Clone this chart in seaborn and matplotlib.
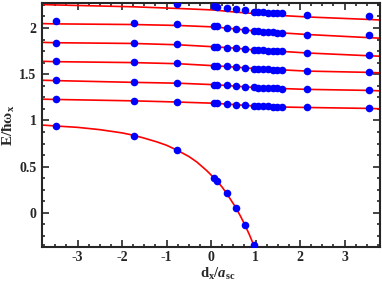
import numpy as np
import pandas as pd
import matplotlib
matplotlib.use("Agg")
import matplotlib.pyplot as plt
from matplotlib.ticker import MultipleLocator
import seaborn as sns

# theory curves
curve_x = [-3.8, -3.5, -1.75, -0.75, 0.07, 0.56, 0.96, 1.6, 2.16, 3.55, 3.8]
line1 = [1.230, 1.227, 1.212, 1.199, 1.186, 1.170, 1.157, 1.145, 1.140, 1.130, 1.126]
line2 = [1.435, 1.431, 1.412, 1.403, 1.387, 1.371, 1.357, 1.345, 1.336, 1.325, 1.320]
line3 = [1.640, 1.636, 1.626, 1.614, 1.592, 1.577, 1.562, 1.547, 1.534, 1.520, 1.515]
line4 = [1.845, 1.841, 1.833, 1.819, 1.797, 1.782, 1.763, 1.747, 1.730, 1.700, 1.695]
line5 = [2.048, 2.045, 2.038, 2.028, 2.012, 1.990, 1.969, 1.947, 1.930, 1.896, 1.890]
line6 = [2.254, 2.250, 2.230, 2.212, 2.195, 2.172, 2.158, 2.135, 2.120, 2.093, 2.087]

bound_x = [-3.8, -3.5, -3.0, -2.5, -2.0, -1.73, -1.5, -1.22, -1.0, -0.76, -0.5,
           -0.32, -0.1, 0.0, 0.14, 0.25, 0.35, 0.45, 0.56, 0.66, 0.76, 0.86, 0.96, 0.99]
bound_y = [0.950, 0.940, 0.925, 0.900, 0.865, 0.838, 0.808, 0.768, 0.731, 0.677, 0.610,
           0.550, 0.458, 0.410, 0.340, 0.278, 0.210, 0.136, 0.054, -0.035, -0.130, -0.235, -0.350, -0.390]

# numerical points
pts_x = [-3.48, -1.73, -0.76, 0.07, 0.14, 0.35, 0.56, 0.76, 0.96, 1.06, 1.17, 1.28, 1.40, 1.49, 1.60, 2.16, 3.55]
pts1 = [1.228, 1.213, 1.199, 1.186, 1.184, 1.177, 1.170, 1.163, 1.157, 1.155, 1.153, 1.151, 1.149, 1.147, 1.145, 1.141, 1.131]
pts2 = [1.433, 1.411, 1.405, 1.387, 1.385, 1.379, 1.371, 1.364, 1.357, 1.355, 1.353, 1.351, 1.349, 1.347, 1.345, 1.336, 1.328]
pts3 = [1.638, 1.627, 1.617, 1.592, 1.590, 1.584, 1.577, 1.569, 1.562, 1.560, 1.557, 1.554, 1.551, 1.549, 1.547, 1.534, 1.526]
pts4 = [1.843, 1.836, 1.822, 1.797, 1.795, 1.789, 1.782, 1.774, 1.763, 1.760, 1.757, 1.754, 1.751, 1.749, 1.747, 1.731, 1.706]
pts5 = [2.073, 2.058, 2.043, 2.020, 2.017, 2.005, 1.990, 1.983, 1.969, 1.965, 1.961, 1.957, 1.953, 1.950, 1.947, 1.930, 1.930]
pts6_x = pts_x[2:]
pts6 = [2.257, 2.235, 2.232, 2.214, 2.203, 2.192, 2.178, 2.175, 2.172, 2.168, 2.165, 2.162, 2.158, 2.141, 2.127]
bound_pts_x = [-3.48, -1.73, -0.76, 0.07, 0.14, 0.35, 0.56, 0.76, 0.96]
bound_pts = [0.940, 0.835, 0.677, 0.381, 0.340, 0.210, 0.054, -0.130, -0.350]

xtick_labels = ['-3', '-2', '-1', '0', '1', '2', '3']
ytick_labels = ['0', '0.5', '1', '1.5', '2']

sns.set_style("ticks")
plt.rcParams['font.family'] = ['Liberation Serif', 'DejaVu Serif']
plt.rcParams['font.weight'] = 'bold'
plt.rcParams['axes.unicode_minus'] = False
plt.rcParams['mathtext.fontset'] = 'custom'
plt.rcParams['mathtext.rm'] = 'Liberation Serif:bold'
plt.rcParams['mathtext.it'] = 'Liberation Serif:italic:bold'
plt.rcParams['mathtext.bf'] = 'Liberation Serif:bold'

fig = plt.figure(figsize=(3.82, 2.81), dpi=100)
ax = fig.add_axes([0.110, 0.121, 0.885, 0.868])

for ys in [line1, line2, line3, line4, line5, line6]:
    sns.lineplot(x=curve_x, y=ys, color='red', lw=1.2, sort=False, estimator=None, ax=ax)
sns.lineplot(x=bound_x, y=bound_y, color='red', lw=1.2, sort=False, estimator=None, ax=ax)

pts = pd.concat([
    pd.DataFrame({'x': pts_x, 'y': p}) for p in [pts1, pts2, pts3, pts4, pts5]
] + [pd.DataFrame({'x': pts6_x, 'y': pts6}), pd.DataFrame({'x': bound_pts_x, 'y': bound_pts})])
sns.scatterplot(data=pts, x='x', y='y', color='#0000ff', s=30, linewidth=0, zorder=5, ax=ax)

ax.set_xlim(-3.8, 3.8)
ax.set_ylim(-0.37, 2.27)
ax.xaxis.set_minor_locator(MultipleLocator(0.25))
ax.yaxis.set_minor_locator(MultipleLocator(0.125))
ax.set_xticks([-3, -2, -1, 0, 1, 2, 3])
ax.set_yticks([0, 0.5, 1, 1.5, 2])
ax.set_xticklabels(xtick_labels, fontweight='bold', fontsize=10)
ax.set_yticklabels(ytick_labels, fontweight='bold', fontsize=10)
ax.tick_params(which='both', direction='in', top=True, right=True, width=1.2)
ax.tick_params(axis='x', pad=3)
ax.tick_params(axis='y', pad=4)
ax.tick_params(which='major', length=5)
ax.tick_params(which='minor', length=2.5)
for s in ax.spines.values():
    s.set_linewidth(1.5)
    s.set_visible(True)

ax.set_xlabel(r'd$_\mathrm{x}$/$a_\mathrm{sc}$', fontsize=10.5, fontweight='bold')
ax.set_ylabel(r'E/ħω$_\mathrm{x}$', fontsize=11, fontweight='bold')
ax.xaxis.set_label_coords(0.52, -0.076)
ax.yaxis.set_label_coords(-0.075, 0.5)

fig.savefig('out.png', dpi=100)
